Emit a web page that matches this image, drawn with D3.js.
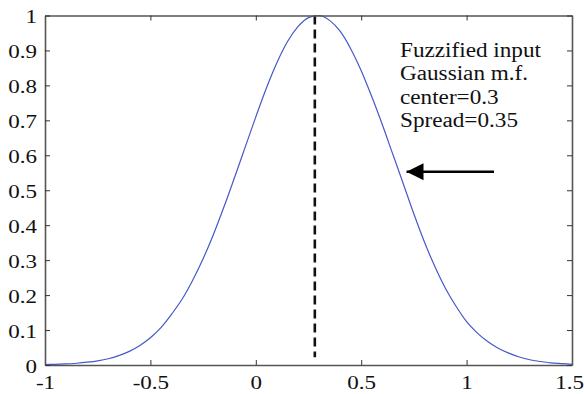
<!DOCTYPE html>
<html>
<head>
<meta charset="utf-8">
<script src="https://cdn.jsdelivr.net/npm/d3@7"></script>
<style>
body { margin: 0; background: #fff; }
text { font-family: "Liberation Serif", "Times New Roman", serif; }
</style>
</head>
<body>
<script>
// Width and height
var w = 584;
var h = 394;

// curve values
var xs = [-1, -0.95, -0.9, -0.85, -0.8, -0.75, -0.7, -0.65, -0.6, -0.55, -0.5, -0.45, -0.4, -0.35, -0.3, -0.25, -0.2, -0.15, -0.1, -0.05,
          0, 0.05, 0.1, 0.15, 0.2, 0.25, 0.3, 0.35, 0.4, 0.45, 0.5, 0.55, 0.6, 0.65, 0.7, 0.75, 0.8, 0.85, 0.9, 0.95,
          1, 1.05, 1.1, 1.15, 1.2, 1.25, 1.3, 1.35, 1.4, 1.45, 1.5];
var ys = [0.001, 0.002, 0.003, 0.005, 0.008, 0.012, 0.018, 0.027, 0.039, 0.056, 0.078, 0.107, 0.145, 0.188, 0.242, 0.304, 0.375, 0.454, 0.538, 0.624,
          0.71, 0.792, 0.865, 0.925, 0.968, 0.994, 1.0, 0.986, 0.955, 0.905, 0.842, 0.768, 0.688, 0.603, 0.518, 0.432, 0.352, 0.281, 0.219, 0.168,
          0.124, 0.092, 0.067, 0.048, 0.034, 0.023, 0.015, 0.01, 0.006, 0.004, 0.002];
var centerX = [0.28];
var xTicks = [-1, -0.5, 0, 0.5, 1, 1.5];
var yTicks = [0, 0.1, 0.2, 0.3, 0.4, 0.5, 0.6, 0.7, 0.8, 0.9, 1];
var notes = ["Fuzzified input", "Gaussian m.f.", "center=0.3", "Spread=0.35"];
var arrowFrom = [1.13, 0.553];
var arrowTo = [0.715, 0.553];

// plot box (avoid the global name "top")
var mLeft = 45, mRight = 572, mTop = 15.5, mBottom = 365;
var stretch = 1.18;

var x = d3.scaleLinear().domain([-1, 1.5]).range([mLeft, mRight]);
var y = d3.scaleLinear().domain([0, 1]).range([mBottom, mTop]);

//Create SVG element
var svg = d3.select("body")
            .append("svg")
            .attr("width", w)
            .attr("height", h);

// dashed centre line
svg.append("line")
   .attr("x1", x(centerX[0]))
   .attr("x2", x(centerX[0]))
   .attr("y1", y(1))
   .attr("y2", y(0.022))
   .attr("stroke", "#111")
   .attr("stroke-width", 2.6)
   .attr("stroke-dasharray", "9,5");

// gaussian curve
var line = d3.line()
    .x(function(d) { return x(d[0]); })
    .y(function(d) { return y(d[1]); })
    .curve(d3.curveMonotoneX);

svg.append("path")
   .datum(xs.map(function(v, i) { return [v, ys[i]]; }))
   .attr("d", line)
   .attr("fill", "none")
   .attr("stroke", "#4658c8")
   .attr("stroke-width", 1.2);

// axes, matlab style box with inward ticks
var bottomAxis = d3.axisBottom(x).tickValues(xTicks).tickSizeInner(-5).tickSizeOuter(0).tickPadding(10)
    .tickFormat(function(d) { return d; });
var topAxis = d3.axisTop(x).tickValues(xTicks).tickSizeInner(-5).tickSizeOuter(0).tickFormat("");
var leftAxis = d3.axisLeft(y).tickValues(yTicks).tickSizeInner(-5).tickSizeOuter(0).tickPadding(8)
    .tickFormat(function(d) { return d; });
var rightAxis = d3.axisRight(y).tickValues(yTicks).tickSizeInner(-5).tickSizeOuter(0).tickFormat("");

var gb = svg.append("g").attr("transform", "translate(0," + mBottom + ")").call(bottomAxis);
var gt = svg.append("g").attr("transform", "translate(0," + mTop + ")").call(topAxis);
var gl = svg.append("g").attr("transform", "translate(" + mLeft + ",0)").call(leftAxis);
var gr = svg.append("g").attr("transform", "translate(" + mRight + ",0)").call(rightAxis);

[gb, gt, gl, gr].forEach(function(g) {
    g.select(".domain").attr("stroke", "#555").attr("stroke-width", 1.6);
    g.selectAll(".tick line").attr("stroke", "#333").attr("stroke-width", 1);
    g.selectAll("text")
     .attr("font-family", "Liberation Serif, Times New Roman, serif")
     .attr("font-size", "19.5px")
     .attr("fill", "#111");
});
// the reference glyphs are a bit wider than Times
gb.selectAll("text")
  .attr("x", function(d, i) { return i === xTicks.length - 1 ? -3 / stretch : 0; })
  .attr("transform", "scale(" + stretch + ",1)");
gl.selectAll("text")
  .attr("x", -8 / stretch)
  .attr("dy", "0.36em")
  .attr("transform", "scale(" + stretch + ",1)");

// annotation text
svg.selectAll("g.note")
   .data(notes)
   .enter()
   .append("g")
   .attr("class", "note")
   .attr("transform", function(d, i) { return "translate(400," + (57 + i * 23.3) + ") scale(1.16,1)"; })
   .append("text")
   .text(function(d) { return d; })
   .attr("font-size", "20px")
   .attr("fill", "#111");

// arrow
svg.append("defs").append("marker")
   .attr("id", "head")
   .attr("viewBox", "0 0 10 10")
   .attr("refX", 10)
   .attr("refY", 5)
   .attr("markerUnits", "userSpaceOnUse")
   .attr("markerWidth", 17)
   .attr("markerHeight", 17)
   .attr("orient", "auto")
   .append("path")
   .attr("d", "M0,0 L10,5 L0,10 Z")
   .attr("fill", "#000");

svg.append("line")
   .attr("x1", x(arrowFrom[0]))
   .attr("y1", y(arrowFrom[1]))
   .attr("x2", x(arrowTo[0]))
   .attr("y2", y(arrowTo[1]))
   .attr("stroke", "#000")
   .attr("stroke-width", 2.5)
   .attr("marker-end", "url(#head)");
</script>
</body>
</html>
